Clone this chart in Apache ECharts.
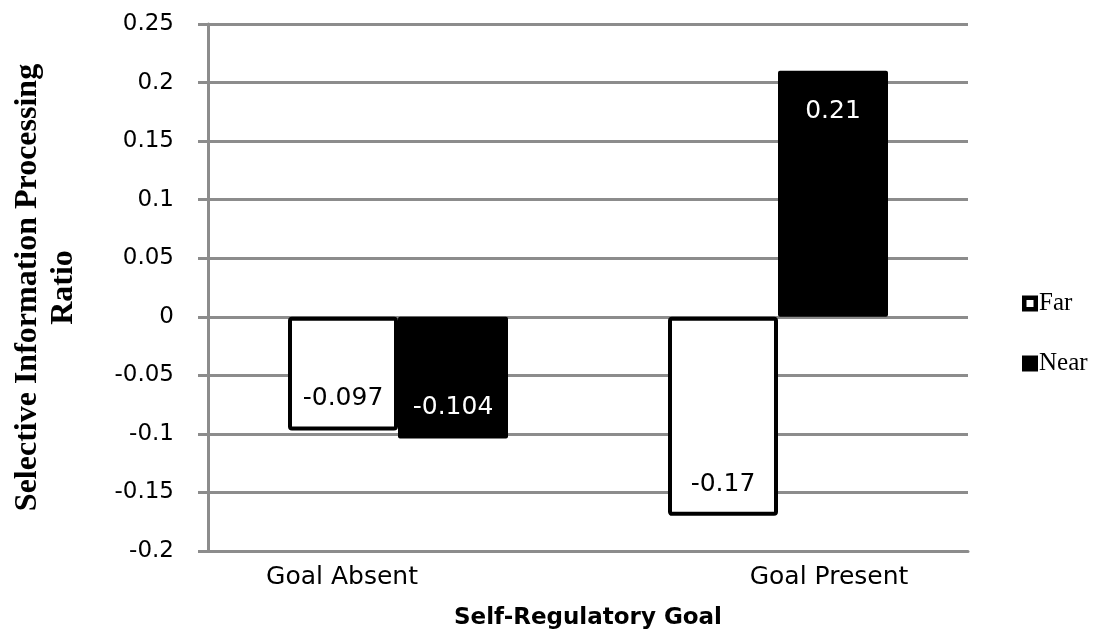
<!DOCTYPE html>
<html>
<head>
<meta charset="utf-8">
<script src="https://cdn.jsdelivr.net/npm/echarts@6/dist/echarts.min.js"></script>
<style>
html,body{margin:0;padding:0;background:#fff;}
#chart{width:1115px;height:637px;}
</style>
</head>
<body>
<div id="chart"></div>
<script>
const categories = ['Goal Absent', 'Goal Present'];
const farValues = [-0.097, -0.17];
const nearValues = [-0.104, 0.21];
const seriesNames = ['Far', 'Near'];
const yMin = -0.2, yMax = 0.25, yStep = 0.05;
const xTitle = 'Self-Regulatory Goal';
const yTitle = 'Selective Information Processing\nRatio';

const gridColor = '#8c8c8c';
const sans = 'DejaVu Sans';
const chart = echarts.init(document.getElementById('chart'));

function labelFor(v) {
  return {
    show: true,
    position: v < 0 ? 'insideBottom' : 'insideTop',
    distance: v < 0 ? 19 : 28,
    fontFamily: sans,
    fontSize: 25
  };
}
function fmt(v) { return String(parseFloat(v.toFixed(3))); }

chart.setOption({
  animation: false,
  backgroundColor: '#fff',
  grid: { left: 208, right: 147, top: 24, bottom: 86, containLabel: false },
  legend: {
    orient: 'vertical',
    left: 1017,
    top: 286,
    itemWidth: 16,
    itemHeight: 16,
    itemGap: 35,
    textStyle: { fontFamily: 'Liberation Serif', fontSize: 25, color: '#000', padding: [0, 0, 0, -4] },
    data: [
      { name: seriesNames[0], icon: 'path://M0,0H16V16H0Z M4.5,4.5V11.5H11.5V4.5Z', itemStyle: { color: '#000', borderWidth: 0 } },
      { name: seriesNames[1], icon: 'rect', itemStyle: { color: '#000', borderWidth: 0 } }
    ]
  },
  xAxis: {
    type: 'category',
    data: categories,
    axisLine: { onZero: false, lineStyle: { color: gridColor, width: 3 } },
    axisTick: { show: false },
    axisLabel: {
      margin: 14,
      color: '#000',
      fontFamily: sans,
      fontSize: 25,
      formatter: function (v, i) { return i === 0 ? '{a|' + v + '}' : '{b|' + v + '}'; },
      rich: {
        a: { fontFamily: sans, fontSize: 25, color: '#000', padding: [0, 112, 0, 0] },
        b: { fontFamily: sans, fontSize: 25, color: '#000', padding: [0, 0, 0, 102] }
      }
    },
    name: xTitle,
    nameLocation: 'middle',
    nameGap: 56,
    nameTextStyle: { fontFamily: sans, fontWeight: 'bold', fontSize: 23, color: '#000' }
  },
  yAxis: {
    type: 'value',
    min: yMin,
    max: yMax,
    interval: yStep,
    axisLine: { show: true, lineStyle: { color: gridColor, width: 3 } },
    axisTick: { show: true, length: 10, lineStyle: { color: gridColor, width: 3 } },
    splitLine: { show: true, lineStyle: { color: gridColor, width: 3 } },
    axisLabel: {
      margin: 34,
      color: '#000',
      fontFamily: sans,
      fontSize: 23,
      formatter: function (v) { return String(parseFloat(v.toFixed(2))); }
    },
    name: yTitle,
    nameLocation: 'middle',
    nameRotate: 90,
    nameGap: 126,
    nameTextStyle: { fontFamily: 'Liberation Serif', fontWeight: 'bold', fontSize: 32, color: '#000', lineHeight: 36, align: 'center' }
  },
  series: [
    {
      name: seriesNames[0],
      type: 'bar',
      barWidth: 110,
      barGap: '0%',
      itemStyle: { color: '#fff', borderColor: '#000', borderWidth: 4, borderRadius: 2 },
      label: { color: '#000', formatter: function (p) { return fmt(p.value); } },
      data: farValues.map(v => ({ value: v, label: labelFor(v) }))
    },
    {
      name: seriesNames[1],
      type: 'bar',
      barWidth: 110,
      barGap: '0%',
      itemStyle: { color: '#000', borderRadius: 2 },
      label: { color: '#fff', formatter: function (p) { return fmt(p.value); } },
      data: nearValues.map(v => ({ value: v, label: labelFor(v) }))
    }
  ]
});
</script>
</body>
</html>
